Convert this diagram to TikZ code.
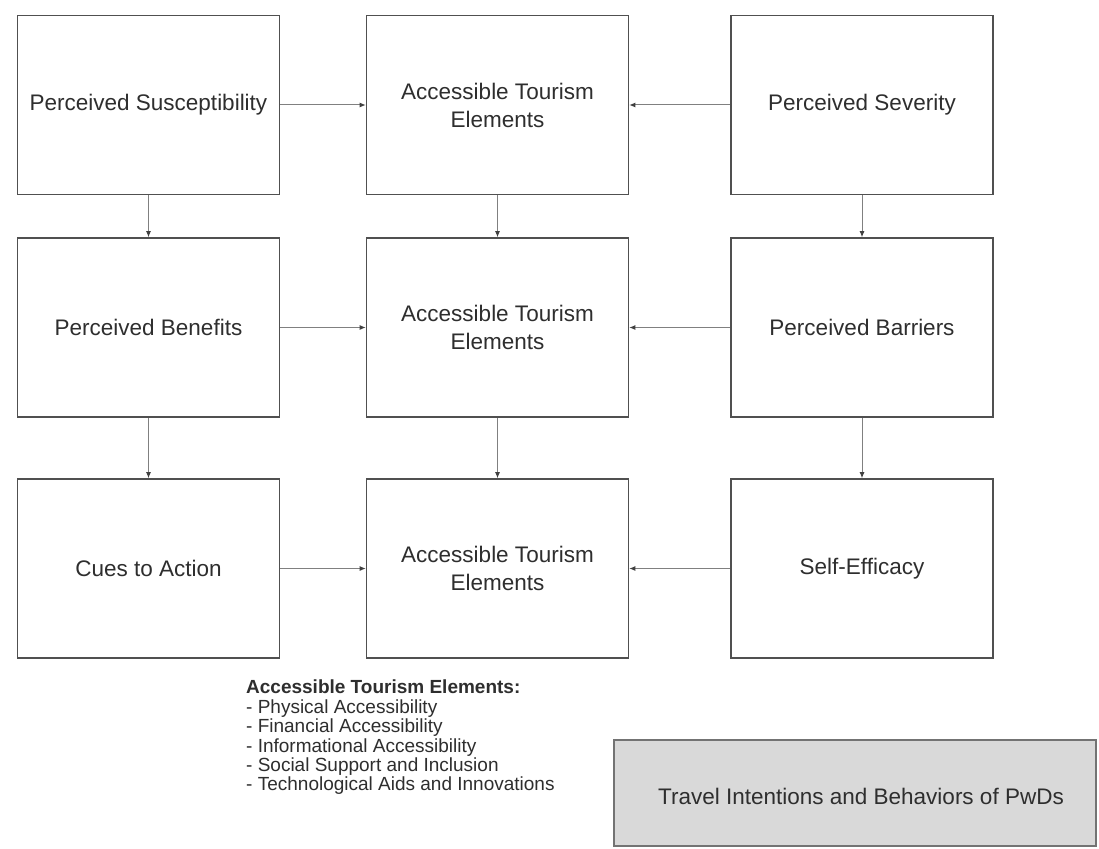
\documentclass[tikz,border=0pt]{standalone}
\usepackage{fontspec}
\setmainfont{Liberation Sans}
\usetikzlibrary{arrows.meta}
\definecolor{boxline}{HTML}{505050}
\definecolor{arrline}{HTML}{808080}
\definecolor{txt}{HTML}{2E2E2E}
\definecolor{outfill}{HTML}{D9D9D9}
\begin{document}
\begin{tikzpicture}[x=1pt,y=-1pt,
  construct/.style={draw=boxline, line width=1.6pt, fill=white,
    minimum width=262pt, minimum height=179pt, inner sep=0pt,
    align=center, text=txt, font=\fontsize{22.5}{28}\selectfont},
  link/.style={draw=arrline, line width=1pt,
    -{Latex[length=6pt,width=5pt,color=black!75]}},
  legend/.style={align=left, anchor=north west, text=txt, inner sep=0pt,
    font=\fontsize{19}{19.4}\selectfont},
  outcome/.style={draw=boxline!80, line width=1.2pt, fill=outfill,
    text=txt, inner sep=0pt, font=\fontsize{22.5}{28}\selectfont}]
\useasboundingbox (0,0) rectangle (1099,848);
\fill[white] (0,0) rectangle (1099,848);

% three rows of constructs
\node[construct] (sus) at (148.5,105) {Perceived Susceptibility};
\node[construct] (ate1) at (497.5,105) {Accessible Tourism\\Elements};
\node[construct] (sev) at (862,105) {Perceived Severity};

\node[construct] (ben) at (148.5,327.5) {Perceived Benefits};
\node[construct] (ate2) at (497.5,327.5) {Accessible Tourism\\Elements};
\node[construct] (bar) at (862,327.5) {Perceived Barriers};

\node[construct] (cue) at (148.5,568.5) {Cues to Action};
\node[construct] (ate3) at (497.5,568.5) {Accessible Tourism\\Elements};
\node[construct] (eff) at (862,568.5) {Self-Efficacy};

% horizontal links into the middle column
\draw[link] (sus) -- (ate1);
\draw[link] (sev) -- (ate1);
\draw[link] (ben) -- (ate2);
\draw[link] (bar) -- (ate2);
\draw[link] (cue) -- (ate3);
\draw[link] (eff) -- (ate3);

% vertical links down each column
\draw[link] (sus) -- (ben);
\draw[link] (ben) -- (cue);
\draw[link] (ate1) -- (ate2);
\draw[link] (ate2) -- (ate3);
\draw[link] (sev) -- (bar);
\draw[link] (bar) -- (eff);

% legend of elements
\node[legend] (leg) at (246,680) {\textbf{Accessible Tourism Elements:}\\
- Physical Accessibility\\
- Financial Accessibility\\
- Informational Accessibility\\
- Social Support and Inclusion\\
- Technological Aids and Innovations};

% outcome box
\draw[outcome] (614,740) rectangle (1096,846);
\node[text=txt, font=\fontsize{22.5}{28}\selectfont] (out) at (861,796) {Travel Intentions and Behaviors of PwDs};
\end{tikzpicture}
\end{document}
